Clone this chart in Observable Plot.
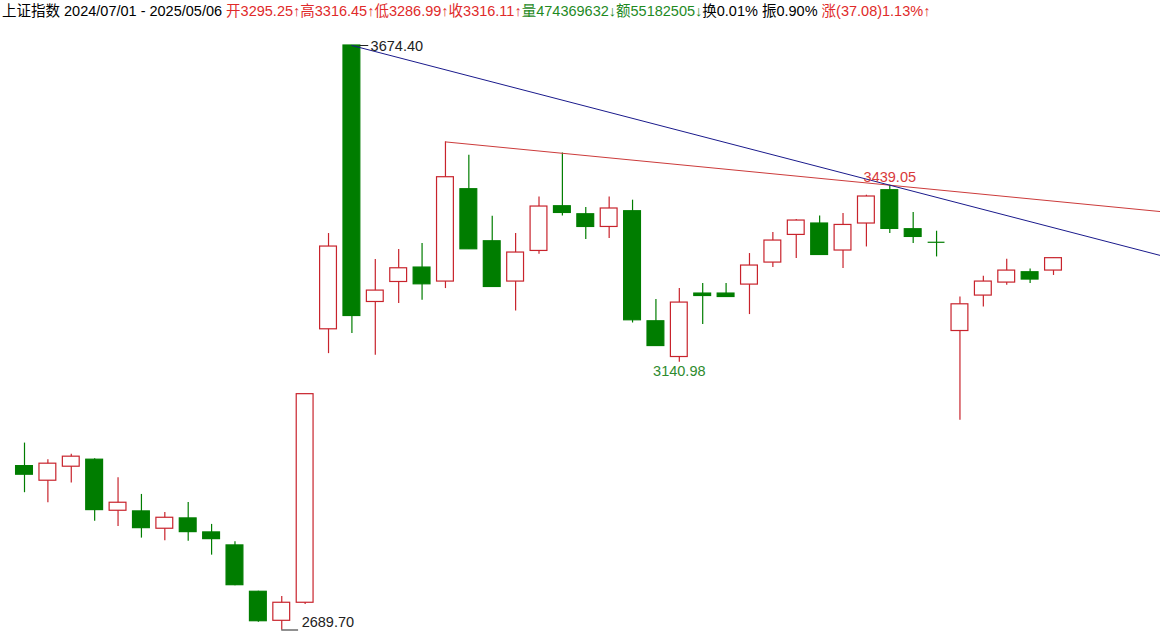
<!DOCTYPE html>
<html>
<head>
<meta charset="utf-8">
<script src="https://cdn.jsdelivr.net/npm/d3@7"></script>
<script src="https://cdn.jsdelivr.net/npm/@observablehq/plot@0.6"></script>
<style>
  html, body { margin: 0; padding: 0; background: #fff; }
  #header { height: 22px; line-height: 22px; padding-left: 2px; font-family: "Liberation Sans", Arial, "Noto Sans CJK SC", sans-serif; font-size: 14.5px; white-space: nowrap; color: #000; }
  #header .r { color: #e02a2a; }
  #header .g { color: #1f8a1f; }
  #chart svg { display: block; }
</style>
</head>
<body>
<div id="header"></div>
<div id="chart"></div>
<script>
// ---- Data (weekly candles, 上证指数) ----
const weeks = ["2024-07-01","2024-07-08","2024-07-15","2024-07-22","2024-07-29","2024-08-05","2024-08-12","2024-08-19","2024-08-26","2024-09-02","2024-09-09","2024-09-18","2024-09-23","2024-09-30","2024-10-08","2024-10-14","2024-10-21","2024-10-28","2024-11-04","2024-11-11","2024-11-18","2024-11-25","2024-12-02","2024-12-09","2024-12-16","2024-12-23","2024-12-30","2025-01-06","2025-01-13","2025-01-20","2025-01-27","2025-02-05","2025-02-10","2025-02-17","2025-02-24","2025-03-03","2025-03-10","2025-03-17","2025-03-24","2025-03-31","2025-04-07","2025-04-14","2025-04-21","2025-04-28","2025-05-06"];
const open  = [2965.8,2941.2,2964.8,2976.6,2890.6,2889.5,2860.3,2877.7,2854.1,2832.2,2754.1,2705.2,2735.6,3196.3,3674.4,3242.3,3276.0,3300.3,3276.7,3432.3,3344.6,3276.7,3328.3,3403.6,3390.1,3368.7,3395.2,3209.8,3149.6,3256.5,3256.5,3271.6,3308.7,3355.3,3374.5,3329.0,3374.5,3430.6,3364.9,3342.9,3193.4,3253.1,3275.0,3292.4,3295.25];
const high  = [3004.6,2976.6,2985.6,2978.3,2946.3,2918.1,2887.8,2904.6,2867.6,2838.4,2755.1,2746.2,3087.0,3357.6,3674.4,3313.8,3330.6,3340.8,3512.0,3489.6,3386.8,3357.6,3419.3,3493.5,3401.4,3419.3,3413.8,3246.4,3264.9,3273.3,3273.3,3323.9,3359.3,3381.2,3387.3,3391.3,3422.2,3439.05,3393.0,3361.5,3250.7,3285.6,3314.3,3297.9,3316.45];
const low   = [2921.0,2904.1,2937.2,2873.1,2864.2,2844.5,2840.1,2839.4,2815.8,2764.2,2702.8,2689.70,2732.7,3155.3,3189.0,3152.5,3239.6,3245.2,3264.9,3331.1,3267.6,3227.1,3322.7,3387.3,3347.5,3349.2,3206.9,3168.1,3140.98,3204.2,3250.7,3221.1,3300.3,3315.5,3321.5,3298.6,3335.0,3357.6,3340.8,3318.2,3042.9,3233.9,3270.5,3273.3,3286.99];
const close = [2951.3,2969.9,2981.7,2891.7,2904.1,2861.3,2878.8,2854.6,2842.8,2765.2,2704.5,2735.6,3087.0,3335.7,3218.7,3261.5,3299.1,3272.1,3452.5,3331.1,3267.6,3325.6,3403.1,3392.3,3368.7,3399.8,3211.5,3168.1,3241.3,3252.4,3250.7,3303.7,3345.8,3379.5,3321.5,3372.1,3420.0,3365.4,3351.9,3342.9,3238.4,3276.7,3295.2,3280.1,3316.11];

// trend lines: two anchor highs each
const blueTrend = [{i: 14, v: 3674.40}, {i: 37, v: 3439.05}];
const redTrend  = [{i: 18, v: 3512.0}, {i: 37, v: 3439.05}];

// annotations
const notes = [
  {i: 14, v: 3674.40, text: "3674.40", kind: "maxline"},
  {i: 11, v: 2689.70, text: "2689.70", kind: "minline"},
  {i: 28, v: 3140.98, text: "3140.98", kind: "low"},
  {i: 37, v: 3439.05, text: "3439.05", kind: "high"}
];

// header
const headerParts = [
  ["", "上证指数 2024/07/01 - 2025/05/06 "],
  ["r", "开3295.25↑高3316.45↑低3286.99↑收3316.11↑"],
  ["g", "量474369632↓额55182505↓"],
  ["", "换0.01% 振0.90% "],
  ["r", "涨(37.08)1.13%↑"]
];

const RED = "#c8232c", GREEN = "#007d00";
const FONT = "Liberation Sans, Arial, sans-serif";

const hdr = document.getElementById("header");
headerParts.forEach(([cls, t]) => {
  const s = document.createElement("span");
  if (cls) s.className = cls;
  s.textContent = t;
  hdr.appendChild(s);
});

const candles = open.map((o, k) => ({i: k, week: weeks[k], open: o, high: high[k], low: low[k], close: close[k], up: close[k] > o}));
const dojis = candles.filter(d => d.open === d.close);

function extend(pts, toI) {
  const [a, b] = pts;
  const slope = (b.v - a.v) / (b.i - a.i);
  return [{i: a.i, v: a.v}, {i: toI, v: a.v + slope * (toI - a.i)}];
}

const W = 1160, H = 615;
const half = 0.36;

const chart = Plot.plot({
  width: W, height: H,
  margin: 0,
  x: {type: "linear", domain: [0, candles.length - 1], range: [24, 1053], axis: null},
  y: {type: "linear", domain: [2689.70, 3674.40], range: [607.5, 23], axis: null},
  style: {background: "#fff", overflow: "visible"},
  marks: [
    Plot.ruleX(candles, {x: "i", y1: "low", y2: "high", stroke: d => d.up ? RED : GREEN, strokeWidth: 1.2}),
    Plot.rect(candles.filter(d => d.open !== d.close), {
      x1: d => d.i - half, x2: d => d.i + half,
      y1: "open", y2: "close",
      fill: d => d.up ? "#fff" : GREEN,
      stroke: d => d.up ? RED : GREEN,
      strokeWidth: 1.2
    }),
    Plot.ruleY(dojis, {y: "close", x1: d => d.i - half, x2: d => d.i + half, stroke: GREEN, strokeWidth: 1.2}),
    Plot.line(extend(redTrend, 60), {x: "i", y: "v", stroke: "#cc3b3b", strokeWidth: 1, clip: true}),
    Plot.line(extend(blueTrend, 60), {x: "i", y: "v", stroke: "#1a1a8c", strokeWidth: 1, clip: true}),
    // leader lines for max/min labels
    Plot.ruleY(notes.filter(d => d.kind === "maxline"), {y: "v", x1: d => d.i + 0.35, x2: d => d.i + 0.72, stroke: "#222", strokeWidth: 1}),
    Plot.ruleY(notes.filter(d => d.kind === "minline"), {y: "v", x1: "i", x2: d => d.i + 0.72, stroke: "#222", strokeWidth: 1}),
    Plot.text(notes.filter(d => d.kind === "maxline"), {x: d => d.i + 0.8, y: "v", text: "text", textAnchor: "start", dy: 1, fill: "#222", fontSize: 14.5, fontFamily: FONT}),
    Plot.text(notes.filter(d => d.kind === "minline"), {x: d => d.i + 0.85, y: "v", text: "text", textAnchor: "start", dy: -8, fill: "#222", fontSize: 14.5, fontFamily: FONT}),
    Plot.text(notes.filter(d => d.kind === "low"), {x: "i", y: "v", text: "text", textAnchor: "middle", dy: 9, fill: "#2e8b2e", fontSize: 14.5, fontFamily: FONT}),
    Plot.text(notes.filter(d => d.kind === "high"), {x: "i", y: "v", text: "text", textAnchor: "middle", dy: -8, fill: "#d83a3a", fontSize: 14.5, fontFamily: FONT})
  ]
});
document.getElementById("chart").appendChild(chart);
</script>
</body>
</html>
